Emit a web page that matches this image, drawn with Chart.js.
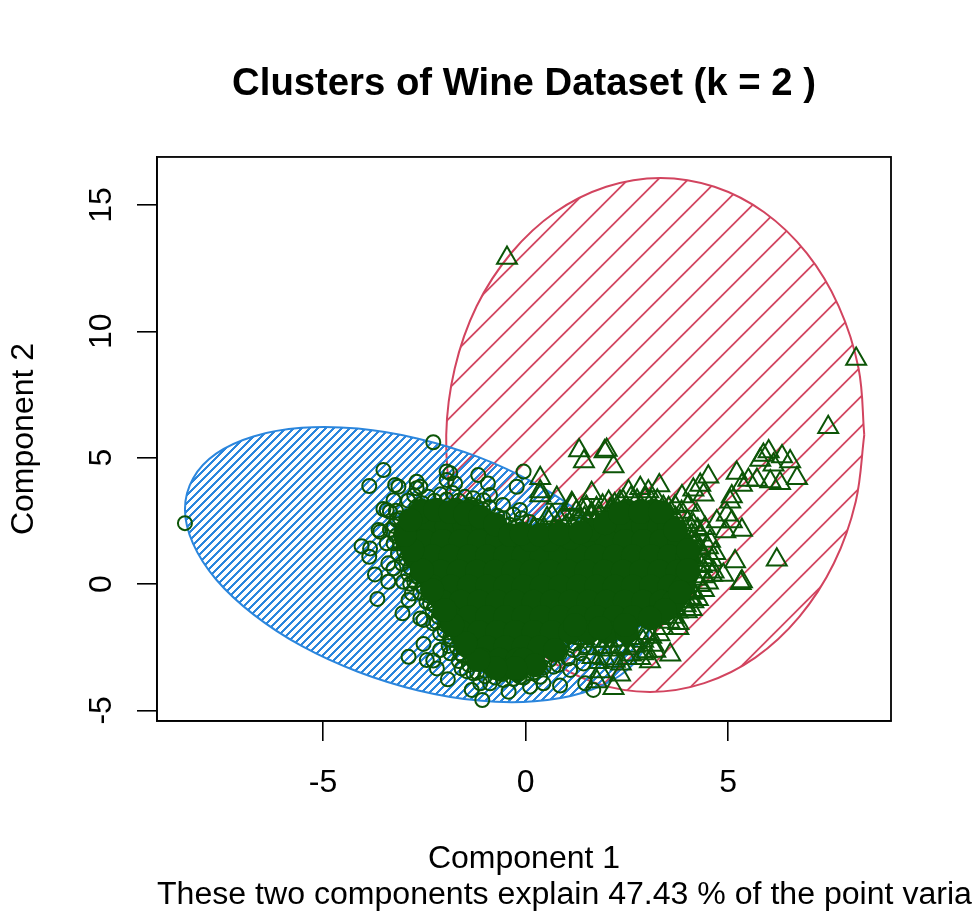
<!DOCTYPE html>
<html>
<head>
<meta charset="utf-8">
<style>
html,body{margin:0;padding:0;background:#fff;overflow:hidden}
canvas{display:block}
</style>
<script src="https://cdn.jsdelivr.net/npm/chart.js@4/dist/chart.umd.min.js"></script>
</head>
<body>
<canvas id="c" width="972" height="918"></canvas>
<script>
const xTicks=[-5,0,5];
const yTicks=[-5,0,5,10,15];
const subText='These two components explain 47.43 % of the point variability.';

// cluster outlines
const blueOutline=[[3.10,-1.42],[2.90,-2.64],[2.33,-3.62],[1.41,-4.30],[0.22,-4.64],[-1.16,-4.61],[-2.65,-4.21],[-4.14,-3.47],[-5.53,-2.45],[-6.72,-1.20],[-7.64,0.18],[-8.21,1.60],[-8.41,2.96],[-8.21,4.18],[-7.64,5.16],[-6.72,5.84],[-5.53,6.18],[-4.14,6.15],[-2.65,5.75],[-1.16,5.02],[0.22,3.99],[1.41,2.74],[2.33,1.37],[2.90,-0.06],[3.10,-1.42]];
const redOutline=[[8.36,5.90],[8.22,8.53],[7.73,10.99],[6.94,13.09],[5.89,14.71],[4.66,15.72],[3.33,16.07],[1.99,15.72],[0.73,14.71],[-0.36,13.09],[-1.21,10.99],[-1.75,8.53],[-1.96,5.90],[-1.82,3.27],[-1.33,0.82],[-0.54,-1.29],[0.51,-2.91],[1.74,-3.92],[3.07,-4.27],[4.41,-3.92],[5.67,-2.91],[6.76,-1.29],[7.61,0.82],[8.15,3.27],[8.36,5.90]];

// cluster 1 markers that can be told apart
const circlePoints=[[-8.41,2.41],[-2.28,5.61],[-3.51,4.51],[-3.86,3.88],[-3.22,3.92],[-3.14,3.85],[-2.69,4.05],[-2.69,3.79],[-2.60,3.85],[-1.95,4.45],[-1.86,4.38],[-1.95,4.12],[-1.74,3.98],[-1.17,4.31],[-0.93,3.98],[-0.05,4.45],[-0.22,3.85],[-0.14,2.93],[-0.56,3.13],[-0.88,3.52],[-1.29,3.39],[-1.04,3.32],[-3.51,2.97],[-3.43,2.93],[-3.35,2.86],[-3.63,2.14],[-3.59,2.07],[-4.05,1.50],[-3.84,1.41],[-3.86,1.08],[-3.39,0.82],[-3.26,0.62],[-3.72,0.38],[-3.39,0.09],[-3.02,0.09],[-2.81,-0.37],[-2.89,-0.63],[-3.66,-0.59],[-3.04,-1.16],[-2.60,-1.36],[-2.52,-1.42],[-2.28,-1.56],[-2.52,-2.37],[-2.89,-2.88],[-2.44,-3.01],[-2.28,-3.03],[-2.19,-3.34],[-1.92,-3.77],[-1.58,-3.34],[-1.33,-4.19],[-1.12,-3.93],[-1.07,-4.59],[-0.42,-4.26],[0.11,-4.06],[0.85,-4.02],[0.44,-3.93],[-0.14,-3.67],[-2.11,-2.61],[-1.86,-2.74],[-2.11,-1.95],[-3.26,3.32],[-3.18,2.53],[-3.35,2.14],[-3.26,1.61],[-3.43,1.61],[-2.85,0.01],[-2.65,0.29],[-2.36,-0.76],[-2.11,-1.16],[-1.86,-2.09],[-1.62,-2.74],[-1.29,-3.53],[-0.88,-3.93],[0.36,-3.67],[0.69,-3.27],[0.85,-2.74],[1.18,-2.61],[1.43,-3.14],[1.10,-3.40],[1.35,-2.74],[1.47,-3.93],[1.67,-4.19],
[-2.9,3.3],[-2.75,3.5],[-2.55,3.2],[-2.4,3.45],[-2.25,3.3],[-2.1,3.55],[-1.95,3.35],[-1.8,3.6],[-1.65,3.3],[-1.5,3.45],[-1.35,3.15],[-1.2,3.05],[-1.05,2.95],[-0.9,3.05],[-0.7,2.7],[-0.55,2.6],[-0.4,2.35],[-0.2,2.3],[0.0,2.1],
[-3.2,2.9],[-3.1,2.6],[-3.25,2.3],[-3.05,2.2],[-3.2,1.9],[-3.1,1.6],[-3.0,1.3],[-3.15,1.2],[-2.95,1.0],[-3.05,0.8],[-2.85,0.65],[-2.9,0.4],[-2.7,0.3],[-2.75,0.1],[-2.55,-0.1],[-2.6,-0.35],[-2.4,-0.45],[-2.45,-0.7],[-2.25,-0.85],[-2.3,-1.05],[-2.15,-1.3],[-2.2,-1.5],[-2.0,-1.6],[-2.0,-1.85],[-1.85,-2.2],[-1.9,-2.45],[-1.7,-2.5],[-1.55,-2.85],[-1.65,-3.05],[-1.4,-3.2],[-1.45,-3.45],[-1.2,-3.5],[-1.0,-3.65],[-0.75,-3.7],[-0.55,-3.8],[-0.3,-3.75],[-0.05,-3.7],[0.2,-3.5],[0.45,-3.3],[0.6,-3.0],[0.9,-2.5],[0.95,-2.2],[1.2,-2.35],[1.45,-2.45],[0.8,-3.2],[1.05,-2.95],
[0.1,2.45],[0.3,2.3],[-0.3,2.75],[-0.1,2.6],[-2.7,3.05],[-2.2,3.1],[-1.7,3.1]];

// cluster 2 markers that can be told apart
const trianglePoints=[[-0.46,12.9],[8.16,8.9],[7.47,6.2],[1.32,5.28],[1.44,4.85],[1.95,5.24],[2.0,5.3],[2.17,4.65],[1.63,3.59],[1.16,3.13],[1.39,2.94],[1.63,2.80],[2.54,3.66],[2.83,3.79],[3.03,3.66],[3.30,3.90],[2.33,3.26],[2.09,2.94],[4.51,4.25],[4.31,3.92],[4.14,3.73],[4.39,3.53],[3.86,3.46],[3.69,3.07],[3.53,3.00],[4.02,3.13],[5.21,4.39],[5.50,4.12],[5.71,4.12],[5.34,3.92],[6.00,5.24],[5.87,5.11],[5.79,4.91],[6.33,5.05],[6.53,4.85],[6.12,4.72],[6.04,4.06],[6.28,3.99],[6.70,4.19],[5.09,3.46],[5.05,3.26],[4.97,2.74],[4.72,2.47],[5.34,2.14],[4.93,2.08],[5.09,2.47],[4.43,2.21],[4.23,2.74],[4.68,1.22],[5.17,0.89],[6.20,0.96],[5.34,0.10],[5.31,0.03],[4.88,0.36],[4.60,0.36],[4.47,0.76],[4.64,0.49],[4.10,-0.30],[3.90,-0.69],[3.77,-1.55],[3.77,-1.75],[3.57,-2.80],[3.07,-3.07],[3.16,-2.41],[2.99,-2.67],[2.83,-2.94],[2.17,-4.12],[2.33,-3.59],[1.76,-3.86],[1.84,-3.46],[2.50,-2.94],[3.32,-1.35],[3.69,-0.96],[4.31,1.95],[4.14,2.34],[4.19,1.55],[4.31,0.49],[4.14,-0.69],[3.98,-1.09],[0.36,4.19],[0.36,3.66],[0.77,3.40],[1.14,3.2],[0.36,3.5],[0.2,2.2],[0.53,2.6],[0.85,2.5],[1.6,2.7],
[1.75,3.0],[1.9,3.1],[2.05,3.25],[2.2,3.15],[2.4,3.3],[2.6,3.4],[2.75,3.3],[2.95,3.35],[3.1,3.25],[3.25,3.3],[3.4,3.05],[3.55,2.75],[3.7,2.6],[3.85,2.85],[4.0,2.45],[3.95,2.1],[4.1,1.95],[4.25,2.15],[4.1,1.65],[4.3,1.4],[4.4,1.05],[4.25,0.95],[4.35,0.7],[4.4,0.3],[4.2,0.2],[4.3,-0.05],[4.15,-0.35],[4.05,-0.55],[3.95,-0.85],[3.75,-1.1],[3.65,-1.3],[3.55,-1.5],[3.4,-1.75],[3.3,-2.0],[3.1,-2.1],[2.9,-2.25],[2.7,-2.45],[2.5,-2.55],[2.3,-2.5],[2.1,-2.6],[1.9,-2.5],[1.95,-2.95],[2.2,-3.05],[2.35,-3.15],[1.65,-2.9],[1.55,-2.55],[1.3,2.5],[1.45,2.6],[1.0,2.3],[0.7,2.2],[0.45,2.2],[1.15,2.3],
[0.95,2.75],[1.25,2.85],[1.5,3.05],[0.65,2.7],[1.8,2.65],[2.15,2.85],[1.7,2.35],[4.55,1.7],[4.5,1.45],[4.6,0.95],[4.5,0.05],[4.4,-0.25],[4.25,-0.6],[4.1,-1.0],[1.75,-2.25],[2.05,-2.25],[2.35,-2.2],[2.65,-2.15],[2.95,-1.95],[1.45,-2.15],[2.6,-2.8],[2.9,-2.75],[3.2,-2.65],[1.8,-3.1]];

// where the thousands of markers merge into solid green
const denseCore=[
[-2.55,2.9],[-2.15,2.9],[-1.75,2.9],[-1.4,2.9],[2.5,2.9],[2.85,2.9],[3.15,2.9],
[-2.85,2.3],[-2.4,2.3],[-1.95,2.3],[-1.5,2.3],[-1.05,2.3],[-0.85,2.3],[2.0,2.3],[2.45,2.3],[2.9,2.3],[3.3,2.3],[3.55,2.3],
[-2.93,1.7],[-2.5,1.7],[-2.05,1.7],[-1.6,1.7],[-1.15,1.7],[-0.7,1.7],[-0.25,1.7],[0.2,1.7],[0.65,1.7],[1.1,1.7],[1.55,1.7],[2.0,1.7],[2.45,1.7],[2.9,1.7],[3.35,1.7],[3.8,1.7],
[-2.75,1.1],[-2.3,1.1],[-1.85,1.1],[-1.4,1.1],[-0.95,1.1],[-0.5,1.1],[-0.05,1.1],[0.4,1.1],[0.85,1.1],[1.3,1.1],[1.75,1.1],[2.2,1.1],[2.65,1.1],[3.1,1.1],[3.55,1.1],[4.0,1.1],
[-2.55,0.5],[-2.1,0.5],[-1.65,0.5],[-1.2,0.5],[-0.75,0.5],[-0.3,0.5],[0.15,0.5],[0.6,0.5],[1.05,0.5],[1.5,0.5],[1.95,0.5],[2.4,0.5],[2.85,0.5],[3.3,0.5],[3.75,0.5],[4.0,0.5],
[-2.3,-0.1],[-1.85,-0.1],[-1.4,-0.1],[-0.95,-0.1],[-0.5,-0.1],[-0.05,-0.1],[0.4,-0.1],[0.85,-0.1],[1.3,-0.1],[1.75,-0.1],[2.2,-0.1],[2.65,-0.1],[3.1,-0.1],[3.55,-0.1],[3.9,-0.1],
[-2.05,-0.7],[-1.6,-0.7],[-1.15,-0.7],[-0.7,-0.7],[-0.25,-0.7],[0.2,-0.7],[0.65,-0.7],[1.1,-0.7],[1.55,-0.7],[2.0,-0.7],[2.45,-0.7],[2.9,-0.7],[3.35,-0.7],[3.65,-0.7],
[-1.85,-1.3],[-1.4,-1.3],[-0.95,-1.3],[-0.5,-1.3],[-0.05,-1.3],[0.4,-1.3],[0.85,-1.3],[1.3,-1.3],[1.75,-1.3],[2.2,-1.3],[2.65,-1.3],[3.15,-1.3],
[-1.6,-1.9],[-1.15,-1.9],[-0.7,-1.9],[-0.25,-1.9],[0.2,-1.9],[0.65,-1.9],[1.1,-1.9],[1.55,-1.9],[2.0,-1.9],[2.5,-1.9],
[-1.4,-2.5],[-0.95,-2.5],[-0.5,-2.5],[-0.05,-2.5],[0.35,-2.5],
[-1.1,-3.0],[-0.65,-3.0],[-0.2,-3.0],[-0.05,-3.0],
[-0.6,-3.4],[-0.2,-3.4],
[-2.60,2.85],[-2.23,2.93],[-1.86,2.85],[-1.49,2.77],[-1.12,2.65],[-0.75,2.37],[-0.38,1.94],[0.11,1.74],[0.60,1.74],[1.10,1.82],[1.59,2.14],[1.96,2.41],[2.33,2.81],[2.83,2.85],[3.32,2.85],[3.69,2.14],[4.01,1.35],[4.01,0.55],[3.81,-0.32],[3.44,-1.03],[3.07,-1.35],[2.46,-1.62],[1.84,-1.74],[1.22,-1.62],[0.73,-2.61],[0.23,-3.21],[-0.26,-3.32],[-0.75,-3.32],[-1.17,-3.01],[-1.49,-2.33],[-1.81,-1.62],[-1.99,-1.03],[-2.31,-0.24],[-2.56,0.55],[-2.80,1.35],[-2.98,1.94],[-2.85,2.53],
[-0.1,2.0],[0.35,1.95],[0.85,2.0],[1.35,2.05]
];

const toXY=a=>a.map(p=>({x:p[0],y:p[1]}));
const GREEN='#0c5507',RED='#d2445f',BLUE='#2b86dd';
const FONT='"Liberation Sans",Arial,sans-serif';

// diagonal hatch; sum is x+y (canvas px) of one of the lines
function hatch(color,spacing,sum,width){
  const T=60,k=spacing/T;
  const t=document.createElement('canvas');t.width=T;t.height=T;
  const g=t.getContext('2d');
  g.strokeStyle=color;g.lineWidth=width/k;
  const p=((sum/k)%T+T)%T;
  for(let i=-2;i<3;i++){
    g.beginPath();g.moveTo(-T,p+i*T+T);g.lineTo(2*T,p+i*T-2*T);g.stroke();
  }
  const pat=document.getElementById('c').getContext('2d').createPattern(t,'repeat');
  pat.setTransform(new DOMMatrix().scale(k));
  return pat;
}

// box round the plot, and the bottom line which runs off the page (the subtitle plugin would squeeze it)
const frame={id:'frame',afterDraw(ch){
  const a=ch.chartArea,c=ch.ctx;
  c.save();c.strokeStyle='#000';c.lineWidth=1.8;
  c.strokeRect(a.left,a.top,a.right-a.left,a.bottom-a.top);
  c.fillStyle='#000';c.font='32.1px '+FONT;c.textAlign='left';c.textBaseline='middle';
  c.fillText(subText,a.left,895);
  c.restore();
}};

new Chart(document.getElementById('c'),{
  type:'scatter',
  data:{datasets:[
    {label:'Cluster 2 region',data:toXY(redOutline),showLine:true,pointRadius:0,borderColor:RED,borderWidth:2,tension:0.36,fill:'shape',backgroundColor:hatch(RED,30,777.5,1.8),order:5},
    {label:'Cluster 1 region',data:toXY(blueOutline),showLine:true,pointRadius:0,borderColor:BLUE,borderWidth:2,tension:0.36,fill:'shape',backgroundColor:hatch(BLUE,8,738,1.8),order:4},
    {label:'Cluster 1',data:toXY(circlePoints),pointStyle:'circle',pointRadius:7,pointBorderWidth:2,pointBorderColor:GREEN,pointBackgroundColor:'transparent',order:3},
    {label:'Cluster 2',data:toXY(trianglePoints),pointStyle:'triangle',pointRadius:11.5,pointBorderWidth:2,pointBorderColor:GREEN,pointBackgroundColor:'transparent',order:2},
    {label:'Dense overlap',data:toXY(denseCore),pointStyle:'circle',pointRadius:12,pointBorderWidth:0,pointBackgroundColor:GREEN,order:1}
  ]},
  options:{
    responsive:false,animation:false,devicePixelRatio:1,
    layout:{padding:{left:0,right:81,top:0,bottom:42.4}},
    plugins:{
      legend:{display:false},tooltip:{enabled:false},
      title:{display:true,text:'Clusters of Wine Dataset (k = 2 )',fullSize:false,color:'#000',
        font:{family:FONT,size:38.3,weight:'bold'},padding:{top:61,bottom:50}}
    },
    scales:{
      x:{type:'linear',min:-9.1,max:9.02,
        afterBuildTicks(a){a.ticks=xTicks.map(v=>({value:v}));},
        afterFit(a){a.height=154.6;},
        grid:{drawOnChartArea:false,tickLength:20,color:'#000',lineWidth:1.6},
        border:{color:'#000',width:1.6},
        ticks:{color:'#000',padding:23,maxRotation:0,font:{family:FONT,size:32}},
        title:{display:true,text:'Component 1',color:'#000',font:{family:FONT,size:32},padding:{top:0,bottom:-3}}},
      y:{type:'linear',min:-5.42,max:16.9,
        afterBuildTicks(a){a.ticks=yTicks.map(v=>({value:v}));},
        afterFit(a){a.width=157;},
        grid:{drawOnChartArea:false,tickLength:20,color:'#000',lineWidth:1.6},
        border:{color:'#000',width:1.6},
        ticks:{color:'#000',padding:17,crossAlign:'center',minRotation:90,maxRotation:90,font:{family:FONT,size:32}},
        title:{display:true,text:'Component 2',color:'#000',font:{family:FONT,size:32},padding:{top:5,bottom:0}}}
    }
  },
  plugins:[frame]
});
</script>
</body>
</html>
